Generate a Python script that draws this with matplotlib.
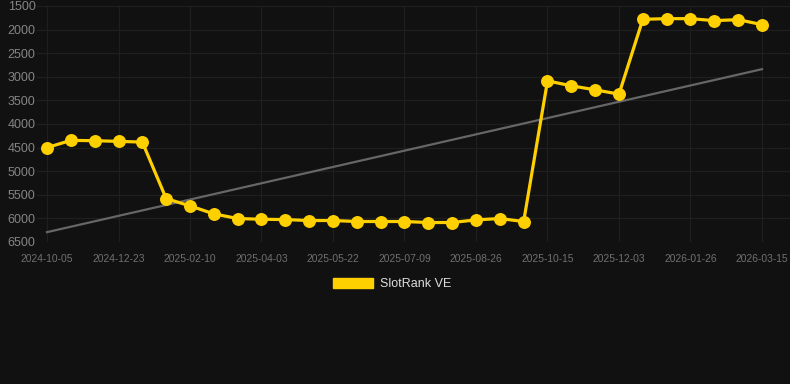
import numpy as np
import matplotlib
matplotlib.use("Agg")
import matplotlib.pyplot as plt
from matplotlib.patches import Patch

dates = ["2024-10-05", "2024-10-31", "2024-11-26", "2024-12-23", "2025-01-08", "2025-01-25",
         "2025-02-10", "2025-02-27", "2025-03-16", "2025-04-03", "2025-04-19", "2025-05-06",
         "2025-05-22", "2025-06-07", "2025-06-23", "2025-07-09", "2025-07-25", "2025-08-10",
         "2025-08-26", "2025-09-11", "2025-09-28", "2025-10-15", "2025-10-31", "2025-11-17",
         "2025-12-03", "2025-12-21", "2026-01-08", "2026-01-26", "2026-02-11", "2026-02-27",
         "2026-03-15"]
rank = [4500, 4347, 4354, 4368, 4383, 5580, 5735, 5904, 6003, 6018, 6025,
        6045, 6045, 6066, 6066, 6066, 6087, 6087, 6031, 6003, 6066,
        3086, 3191, 3276, 3367, 1782, 1768, 1768, 1810, 1789, 1895]
series_name = "SlotRank VE"
yticks = [1500, 2000, 2500, 3000, 3500, 4000, 4500, 5000, 5500, 6000, 6500]

plt.rcParams['font.family'] = ['Liberation Sans', 'DejaVu Sans']

bg = "#111111"
fig = plt.figure(figsize=(7.9, 3.84), dpi=100, facecolor=bg)
W, H = 790, 384
left, right, top, bottom = 37, 790, 6, 242
ax = fig.add_axes([left / W, 1 - bottom / H, (right - left) / W, (bottom - top) / H])
ax.set_facecolor(bg)

x = np.arange(len(dates))
y = np.array(rank, dtype=float)

# trend line (linear regression)
coef = np.polyfit(x, y, 1)
ax.plot([x[0], x[-1]], np.polyval(coef, [x[0], x[-1]]), color="#666666", lw=1.6, zorder=2)

ax.plot(x, y, color="#FFD000", lw=2.3, marker="o", markersize=8.3,
        markerfacecolor="#FFD000", markeredgecolor="#FFD000", zorder=3, clip_on=False)

step = 23.83
ax.set_xlim(-10 / step, len(dates) - 1 + 28 / step)
ax.set_ylim(6500, 1500)
ax.set_yticks(yticks)
ax.set_yticklabels([str(v) for v in yticks])
ax.set_xticks(x[::3])
ax.set_xticklabels([dates[i] for i in x[::3]])

ax.tick_params(axis="y", length=0, pad=1, labelsize=9, labelcolor="#858585")
ax.tick_params(axis="x", length=0, pad=9, labelsize=7.4, labelcolor="#707070")
ax.grid(True, color="#1f1f1f", lw=0.9)
ax.set_axisbelow(True)
for s in ax.spines.values():
    s.set_visible(False)

handle = Patch(facecolor="#FFD000", edgecolor="#FFD000")
leg = fig.legend([handle], [series_name], loc="center", bbox_to_anchor=(392 / W, 1 - 284 / H),
                 frameon=False, fontsize=9, handlelength=3.2, handleheight=0.95,
                 handletextpad=0.5, labelcolor="#dddddd")

fig.savefig("out.png", dpi=100, facecolor=bg)
